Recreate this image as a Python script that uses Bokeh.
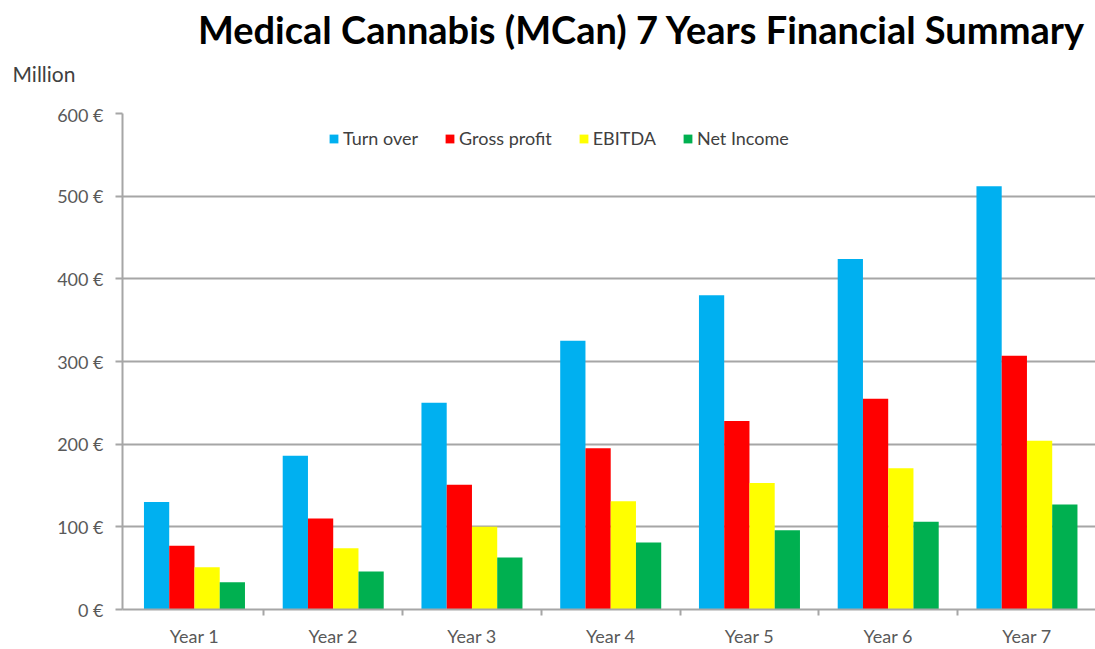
from bokeh.plotting import figure
from bokeh.layouts import column
from bokeh.models import Range1d, FixedTicker, Legend, LegendItem, ColumnDataSource, Label
from bokeh.transform import dodge
from bokeh.embed import file_html
from bokeh.resources import INLINE

years = ["Year 1", "Year 2", "Year 3", "Year 4", "Year 5", "Year 6", "Year 7"]
turnover = [130, 186, 250, 325, 380, 424, 512]
gross_profit = [77, 110, 151, 195, 228, 255, 307]
ebitda = [51, 74, 100, 131, 153, 171, 204]
net_income = [33, 46, 63, 81, 96, 106, 127]
series_names = ["Turn over", "Gross profit", "EBITDA", "Net Income"]
series_fields = ["turnover", "gross_profit", "ebitda", "net_income"]
colors = ["#00B0F0", "#FF0000", "#FFFF00", "#00B050"]
y_ticks = [0, 100, 200, 300, 400, 500, 600]
y_tick_labels = ["0 €", "100 €", "200 €", "300 €", "400 €", "500 €", "600 €"]
title_text = "Medical Cannabis (MCan) 7 Years Financial Summary"
unit_text = "Million"

FONT = "Lato"
W = 1095
HEADER_H = 103
x_pos = [i + 0.5 for i in range(len(years))]
boundaries = [float(i) for i in range(1, len(years))]

# ---------- header (title + unit) ----------
head = figure(width=W, height=HEADER_H, output_backend="svg", toolbar_location=None,
              title=None, x_range=Range1d(0, W), y_range=Range1d(0, HEADER_H),
              x_axis_type=None, y_axis_type=None,
              min_border_left=0, min_border_right=0, min_border_top=0, min_border_bottom=0)
head.outline_line_color = None
head.grid.visible = False
head.add_layout(Label(x=1085, y=HEADER_H - 28, text=title_text,
                      text_align="right", text_baseline="middle", text_font=FONT,
                      text_font_size="38px", text_font_style="bold", text_color="black"))
head.add_layout(Label(x=12, y=HEADER_H - 73, text=unit_text,
                      text_align="left", text_baseline="middle", text_font=FONT,
                      text_font_size="21px", text_color="#404040"))

# ---------- chart ----------
source = ColumnDataSource(dict(x=x_pos, turnover=turnover, gross_profit=gross_profit,
                               ebitda=ebitda, net_income=net_income))

p = figure(width=W, height=649 - HEADER_H, output_backend="svg", toolbar_location=None,
           title=None, x_range=Range1d(-0.0187, 6.994), y_range=Range1d(0, 600),
           min_border_left=122, min_border_right=0, min_border_top=10, min_border_bottom=38)
p.outline_line_color = None
p.background_fill_color = "white"
p.border_fill_color = "white"

for f in (head, p):
    if "frame_align" in f.properties():
        f.frame_align = False

bw = 0.182
items = []
for k, (field, name, col) in enumerate(zip(series_fields, series_names, colors)):
    r = p.vbar(x=dodge("x", (k - 1.5) * bw, range=p.x_range), top=field, bottom=0,
               width=bw, source=source, fill_color=col, line_color=None)
    items.append(LegendItem(label=name, renderers=[r]))

legend = Legend(items=items, orientation="horizontal", location=(206, 460),
                glyph_width=11, glyph_height=11, label_height=18, label_standoff=4,
                spacing=26, padding=0, margin=0, border_line_color=None,
                background_fill_alpha=0, label_text_font=FONT,
                label_text_font_size="18px", label_text_color="#404040")
p.add_layout(legend)

grey = "#a6a6a6"
# y axis
p.yaxis.ticker = FixedTicker(ticks=y_ticks)
p.yaxis.major_label_overrides = {t: l for t, l in zip(y_ticks, y_tick_labels)}
p.yaxis.axis_line_color = grey
p.yaxis.axis_line_width = 2
p.yaxis.major_tick_line_color = grey
p.yaxis.major_tick_line_width = 2
p.yaxis.major_tick_out = 7
p.yaxis.major_tick_in = 0
p.yaxis.minor_tick_line_color = None
p.yaxis.major_label_standoff = 12
p.yaxis.major_label_text_font = FONT
p.yaxis.major_label_text_font_size = "18px"
p.yaxis.major_label_text_color = "#595959"

# x axis
p.xaxis.ticker = FixedTicker(ticks=x_pos, minor_ticks=boundaries)
p.xaxis.major_label_overrides = {x: y for x, y in zip(x_pos, years)}
p.xaxis.axis_line_color = grey
p.xaxis.axis_line_width = 2
p.xaxis.major_tick_line_color = None
p.xaxis.major_tick_out = 0
p.xaxis.major_tick_in = 0
p.xaxis.minor_tick_line_color = grey
p.xaxis.minor_tick_line_width = 2
p.xaxis.minor_tick_out = 6
p.xaxis.minor_tick_in = 0
p.xaxis.major_label_standoff = 9
p.xaxis.major_label_text_font = FONT
p.xaxis.major_label_text_font_size = "18px"
p.xaxis.major_label_text_color = "#595959"

p.xgrid.visible = False
p.ygrid.ticker = FixedTicker(ticks=y_ticks)
p.ygrid.grid_line_color = grey
p.ygrid.grid_line_width = 2

layout = column(head, p, spacing=0)
open("out.html", "w").write(file_html(layout, INLINE))
